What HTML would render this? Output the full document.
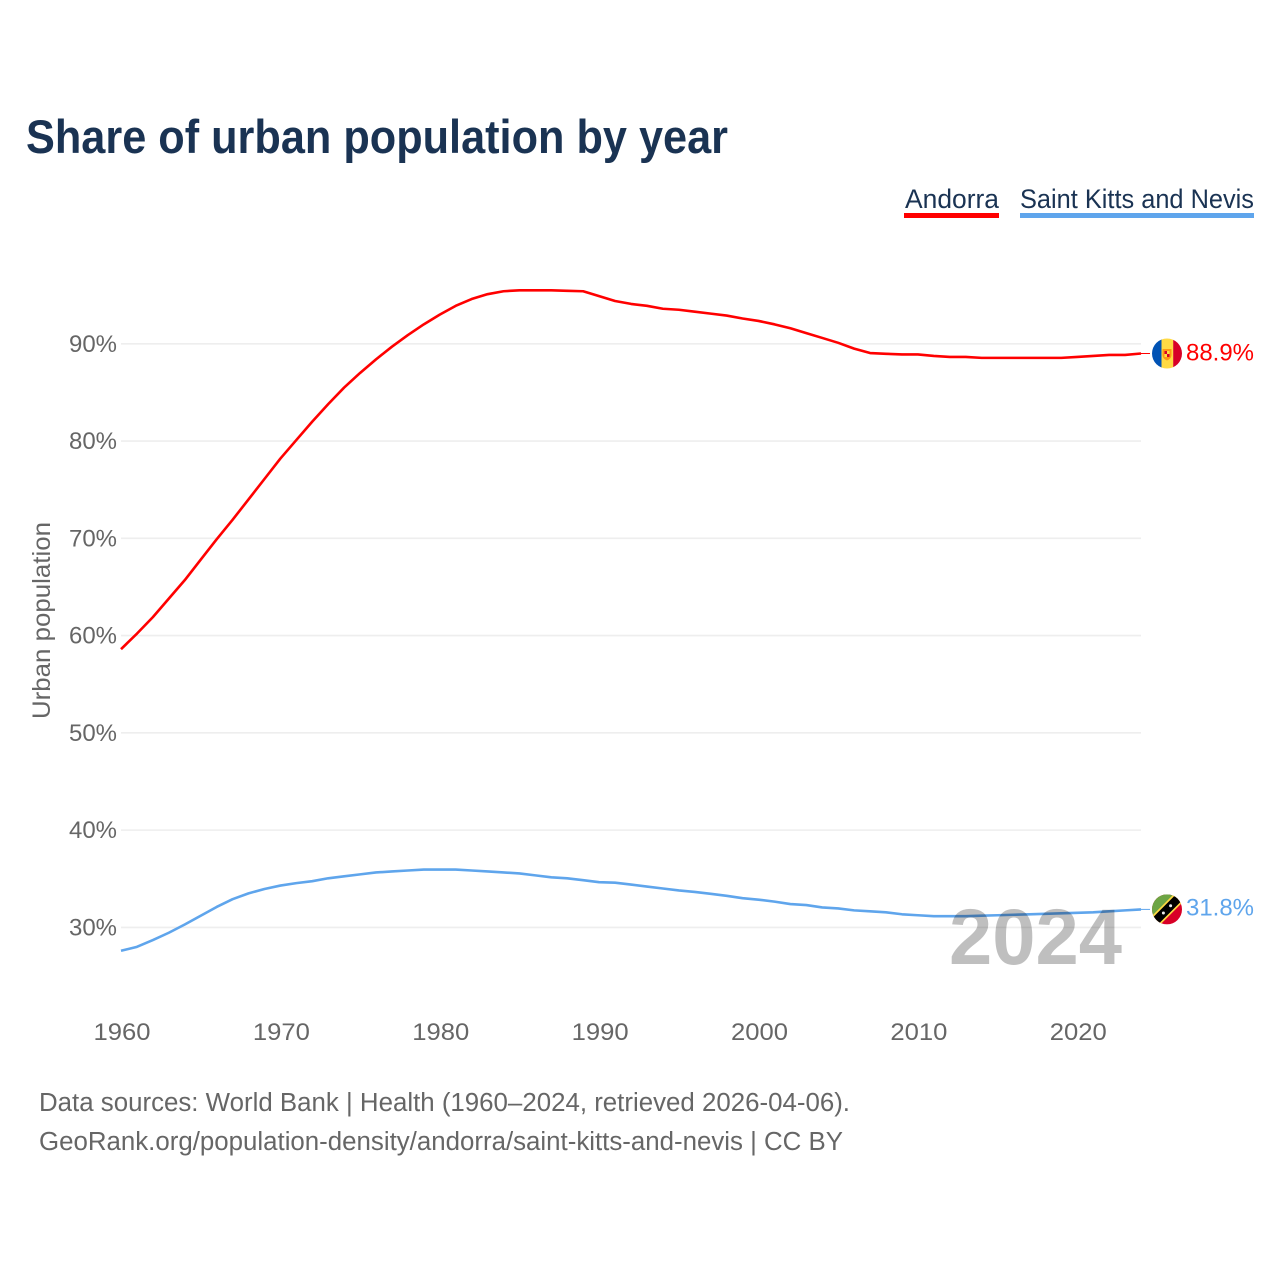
<!DOCTYPE html>
<html lang="en">
<head>
<meta charset="utf-8">
<title>Share of urban population by year</title>
<style>
html,body{margin:0;padding:0;background:#fff;}
svg{display:block;}
text{font-family:"Liberation Sans",sans-serif;}
</style>
</head>
<body>
<svg id="chart" xmlns="http://www.w3.org/2000/svg" width="1280" height="1280" viewBox="0 0 1280 1280">
  <defs>
    <clipPath id="flag-clip"><circle cx="0" cy="0" r="15"></circle></clipPath>
  </defs>
  <rect x="0" y="0" width="1280" height="1280" fill="#ffffff"></rect>
  <text x="26" y="153" font-size="47" font-weight="700" fill="#1a3353" textLength="702" lengthAdjust="spacingAndGlyphs">Share of urban population by year</text>

  <g>
    <g>
      <text x="905" y="208" font-size="26.5" fill="#1a3353" textLength="94" lengthAdjust="spacingAndGlyphs">Andorra</text>
      <rect x="904" y="213" width="95" height="5" fill="#ff0000"></rect>
    </g>
    <g>
      <text x="1020" y="208" font-size="26.5" fill="#1a3353" textLength="234" lengthAdjust="spacingAndGlyphs">Saint Kitts and Nevis</text>
      <rect x="1020" y="213" width="234" height="5" fill="#5fa5ec"></rect>
    </g>
  </g>

  <g id="grid"></g>
  <g id="y-ticks"></g>
  <g id="x-ticks"></g>
  <text transform="translate(50,719) rotate(-90)" font-size="25" fill="#666666" textLength="197" lengthAdjust="spacingAndGlyphs">Urban population</text>

  <g id="series"></g>

  <g id="flag-andorra">
    <g clip-path="url(#flag-clip)">
      <rect x="-15" y="-15" width="9.6" height="30" fill="#0052b4"></rect>
      <rect x="-5.5" y="-15" width="11.8" height="30" fill="#ffda44"></rect>
      <rect x="6.2" y="-15" width="8.8" height="30" fill="#d80027"></rect>
      <path d="M-4.5,-4.5 L4.5,-4.5 L4.5,2 Q4,5.5 0,7 Q-4,5.5 -4.5,2 Z" fill="#ff9811"></path>
      <rect x="-2.5" y="-2.5" width="2.5" height="3" fill="#d80027"></rect>
      <rect x="0" y="0.5" width="2.5" height="3" fill="#d80027"></rect>
      <rect x="0" y="-2.5" width="2.5" height="3" fill="#ffda44"></rect>
      <rect x="-2.5" y="0.5" width="2.5" height="3" fill="#ffda44"></rect>
    </g>
  </g>
  <g id="flag-kitts">
    <g clip-path="url(#flag-clip)">
      <rect x="-15" y="-15" width="30" height="30" fill="#d80027"></rect>
      <path d="M-15,-15 L15,-15 L-15,15 Z" fill="#6da544"></path>
      <line x1="-20" y1="20" x2="20" y2="-20" stroke="#ffda44" stroke-width="12"></line>
      <line x1="-20" y1="20" x2="20" y2="-20" stroke="#000000" stroke-width="8.6"></line>
      <circle cx="-3.6" cy="3.6" r="1.5" fill="#eeeeee"></circle>
      <circle cx="3.6" cy="-3.6" r="1.5" fill="#eeeeee"></circle>
    </g>
  </g>
  <g id="value-labels"></g>

  <text x="949" y="964" font-size="79" font-weight="700" fill="#000000" fill-opacity="0.25" textLength="173" lengthAdjust="spacingAndGlyphs">2024</text>

  <g>
    <text x="39" y="1111" font-size="25.5" fill="#666666" textLength="811" lengthAdjust="spacingAndGlyphs">Data sources: World Bank | Health (1960–2024, retrieved 2026-04-06).</text>
    <text x="39" y="1150" font-size="25.5" fill="#666666" textLength="804" lengthAdjust="spacingAndGlyphs">GeoRank.org/population-density/andorra/saint-kitts-and-nevis | CC BY</text>
  </g>
</svg>
<script>
const startYear = 1960;
const endYear = 2024;
const yTickValues = [30, 40, 50, 60, 70, 80, 90];
const xTickYears = [1960, 1970, 1980, 1990, 2000, 2010, 2020];
const andorraValues = [
  58.6, 60.2, 61.9, 63.8, 65.7, 67.8, 69.9, 71.9, 74.0, 76.1,
  78.2, 80.1, 82.0, 83.8, 85.5, 87.0, 88.4, 89.7, 90.9, 92.0,
  93.0, 93.9, 94.6, 95.1, 95.4, 95.5, 95.5, 95.5, 95.45, 95.4,
  94.9, 94.4, 94.1, 93.9, 93.6, 93.5, 93.3, 93.1, 92.9, 92.6,
  92.35, 92.0, 91.6, 91.1, 90.6, 90.1, 89.5, 89.05, 88.97, 88.9,
  88.9, 88.75, 88.65, 88.65, 88.55, 88.55, 88.55, 88.55, 88.55, 88.55,
  88.65, 88.75, 88.85, 88.85, 89.0
];
const kittsValues = [
  27.6, 28.0, 28.7, 29.45, 30.3, 31.2, 32.1, 32.9, 33.5, 33.95,
  34.3, 34.55, 34.75, 35.05, 35.25, 35.45, 35.65, 35.75, 35.85, 35.95,
  35.95, 35.95, 35.85, 35.75, 35.65, 35.55, 35.35, 35.15, 35.05, 34.85,
  34.65, 34.6, 34.4, 34.2, 34.0, 33.8, 33.65, 33.45, 33.25, 33.0,
  32.85, 32.65, 32.4, 32.3, 32.05, 31.95, 31.75, 31.65, 31.55, 31.35,
  31.25, 31.15, 31.15, 31.15, 31.2, 31.25, 31.3, 31.35, 31.4, 31.45,
  31.5, 31.55, 31.65, 31.75, 31.85
];
const andorraPrintedValue = "88.9%";
const kittsPrintedValue = "31.8%";

const SVG_NS = "http://www.w3.org/2000/svg";
function xScale(year) { return 121 + (year - 1960) * (1141 - 121) / 64; }
function yScale(value) { return 927.4 - (value - 30) * 9.727; }
function svgEl(tag) { return document.createElementNS(SVG_NS, tag); }

const gridGroup = document.getElementById("grid");
const yTickGroup = document.getElementById("y-ticks");
yTickValues.forEach(function (v) {
  const line = svgEl("line");
  
  
  line.setAttribute("x1", xScale(startYear));
  line.setAttribute("x2", xScale(endYear));
  line.setAttribute("y1", yScale(v));
  line.setAttribute("y2", yScale(v));
  line.setAttribute("stroke", "#eeeeee");
  line.setAttribute("stroke-width", "1.6");
  gridGroup.appendChild(line);

  const label = svgEl("text");
  
  
  label.setAttribute("x", 117);
  label.setAttribute("y", yScale(v) + 8);
  label.setAttribute("text-anchor", "end");
  label.setAttribute("font-size", "24");
  label.setAttribute("fill", "#666666");
  label.setAttribute("textLength", "48");
  label.setAttribute("lengthAdjust", "spacingAndGlyphs");
  label.textContent = v + "%";
  yTickGroup.appendChild(label);
});

const xTickGroup = document.getElementById("x-ticks");
xTickYears.forEach(function (yr) {
  const label = svgEl("text");
  
  
  label.setAttribute("x", xScale(yr) + 1);
  label.setAttribute("y", 1040);
  label.setAttribute("text-anchor", "middle");
  label.setAttribute("font-size", "24");
  label.setAttribute("fill", "#666666");
  label.setAttribute("textLength", "57");
  label.setAttribute("lengthAdjust", "spacingAndGlyphs");
  label.textContent = String(yr);
  xTickGroup.appendChild(label);
});

function linePath(values) {
  return values.map(function (v, i) {
    return (i === 0 ? "M" : "L") + xScale(startYear + i).toFixed(2) + "," + yScale(v).toFixed(2);
  }).join(" ");
}

const seriesGroup = document.getElementById("series");

const andorraLine = svgEl("path");


andorraLine.setAttribute("d", linePath(andorraValues));
andorraLine.setAttribute("fill", "none");
andorraLine.setAttribute("stroke", "#ff0000");
andorraLine.setAttribute("stroke-width", "2.6");
andorraLine.setAttribute("stroke-linejoin", "round");
seriesGroup.appendChild(andorraLine);

const kittsLine = svgEl("path");


kittsLine.setAttribute("d", linePath(kittsValues));
kittsLine.setAttribute("fill", "none");
kittsLine.setAttribute("stroke", "#5fa5ec");
kittsLine.setAttribute("stroke-width", "2.6");
kittsLine.setAttribute("stroke-linejoin", "round");
seriesGroup.appendChild(kittsLine);

const andorraEndY = yScale(andorraValues[andorraValues.length - 1]);
const kittsEndY = yScale(kittsValues[kittsValues.length - 1]);

const andorraConnector = svgEl("line");


andorraConnector.setAttribute("x1", xScale(endYear));
andorraConnector.setAttribute("x2", 1150);
andorraConnector.setAttribute("y1", andorraEndY);
andorraConnector.setAttribute("y2", andorraEndY);
andorraConnector.setAttribute("stroke", "#ff0000");
andorraConnector.setAttribute("stroke-width", "1");
seriesGroup.appendChild(andorraConnector);

const kittsConnector = svgEl("line");


kittsConnector.setAttribute("x1", xScale(endYear));
kittsConnector.setAttribute("x2", 1150);
kittsConnector.setAttribute("y1", kittsEndY);
kittsConnector.setAttribute("y2", kittsEndY);
kittsConnector.setAttribute("stroke", "#5fa5ec");
kittsConnector.setAttribute("stroke-width", "1");
seriesGroup.appendChild(kittsConnector);

document.getElementById("flag-andorra").setAttribute("transform", "translate(1167," + andorraEndY + ")");
document.getElementById("flag-kitts").setAttribute("transform", "translate(1167," + kittsEndY + ")");

const valueGroup = document.getElementById("value-labels");

const andorraValueLabel = svgEl("text");


andorraValueLabel.setAttribute("x", 1186);
andorraValueLabel.setAttribute("y", andorraEndY + 7);
andorraValueLabel.setAttribute("font-size", "24.5");
andorraValueLabel.setAttribute("fill", "#ff0000");
andorraValueLabel.setAttribute("textLength", "68");
andorraValueLabel.setAttribute("lengthAdjust", "spacingAndGlyphs");
andorraValueLabel.textContent = andorraPrintedValue;
valueGroup.appendChild(andorraValueLabel);

const kittsValueLabel = svgEl("text");


kittsValueLabel.setAttribute("x", 1186);
kittsValueLabel.setAttribute("y", kittsEndY + 6);
kittsValueLabel.setAttribute("font-size", "24.5");
kittsValueLabel.setAttribute("fill", "#5fa5ec");
kittsValueLabel.setAttribute("textLength", "68");
kittsValueLabel.setAttribute("lengthAdjust", "spacingAndGlyphs");
kittsValueLabel.textContent = kittsPrintedValue;
valueGroup.appendChild(kittsValueLabel);
</script>
</body>
</html>
